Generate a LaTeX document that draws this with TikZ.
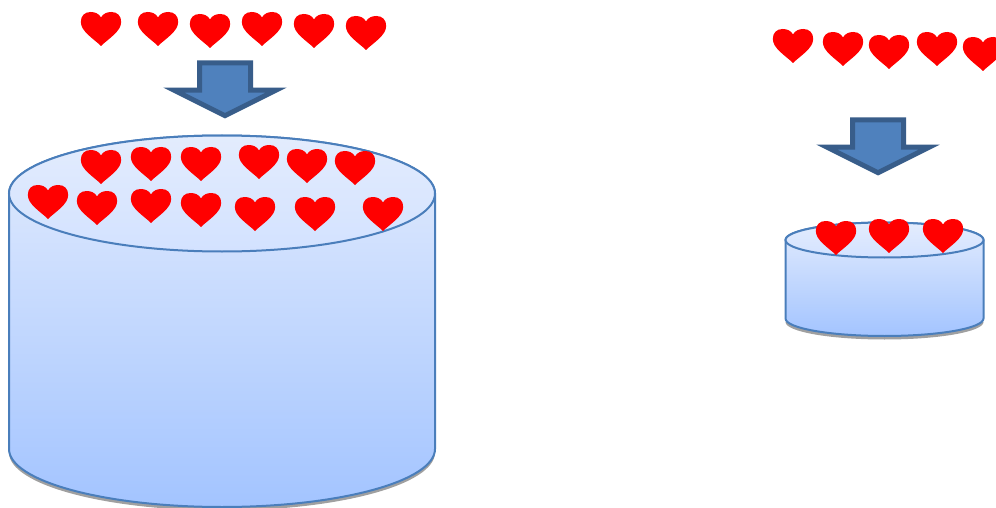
\documentclass[tikz,border=0pt]{standalone}
\usetikzlibrary{calc}
\definecolor{heartred}{HTML}{FF0000}
\definecolor{arrowfill}{HTML}{4F81BD}
\definecolor{arrowline}{HTML}{385D8A}
\definecolor{cylline}{HTML}{4A7EBB}
\definecolor{cyltop}{HTML}{E3ECFD}
\definecolor{cylmid}{HTML}{D3E2FF}
\definecolor{cylbot}{HTML}{A3C4FF}
\definecolor{cylshadow}{HTML}{A0A0A0}
\tikzset{
  x=1pt,y=-1pt,
  heartshape/.pic={
    \fill[heartred] (0,5.5) .. controls (2,1.6) and (6,0) .. (10.5,0)
      .. controls (16.5,0) and (20.2,4) .. (20.2,10)
      .. controls (20.2,19.5) and (7,27) .. (0,34)
      .. controls (-7,27) and (-20.2,19.5) .. (-20.2,10)
      .. controls (-20.2,4) and (-16.5,0) .. (-10.5,0)
      .. controls (-6,0) and (-2,1.6) .. (0,5.5) -- cycle;
  },
  downarrow/.pic={
    \draw[fill=arrowfill,draw=arrowline,line width=5pt,miter limit=12,line join=miter]
      (-25.5,0) -- (25.5,0) -- (25.5,27.2) -- (51,27.2) -- (0,52.7)
      -- (-51,27.2) -- (-25.5,27.2) -- cycle;
  },
  cylrim/.style={draw=cylline,line width=2pt},
}
\newcommand{\cylinder}[5]{% left, right, top-centre y, bottom-centre y, ry
  \pgfmathsetmacro{\cx}{(#1+#2)/2}
  \pgfmathsetmacro{\rx}{(#2-#1)/2}
  \fill[cylshadow] (#1,#4+3.5) arc[start angle=180,end angle=360,x radius=\rx,y radius=-#5] -- cycle;
  \path[top color=cyltop,bottom color=cylbot,cylrim]
    (#1,#3) -- (#1,#4) arc[start angle=180,end angle=360,x radius=\rx,y radius=-#5]
    -- (#2,#3) arc[start angle=0,end angle=180,x radius=\rx,y radius=-#5] -- cycle;
  \path[top color=cyltop,bottom color=cylmid,cylrim]
    (\cx,#3) ellipse[x radius=\rx,y radius=#5];
}
\begin{document}
\begin{tikzpicture}
\clip (0,0) rectangle (996,508);
\fill[white] (0,0) rectangle (996,508);
\cylinder{9}{435}{193.5}{449}{58}
\cylinder{785.5}{983.5}{240}{318.5}{17.5}
\pic at (225,63) {downarrow};
\pic at (878,120) {downarrow};
\foreach \hx/\hy in {101/12,158/12,210/14,262/12,314/14,366/16,
  101/150,151/147,201/147,259/145,307/149,355/151,
  48/185,97/191,151/189,201/193,255/197,315/197,383/197,
  793/29,843/32,889/35,937/32,983/37,
  836/221,889/219,943/219}
  \pic at (\hx,\hy) {heartshape};
\end{tikzpicture}
\end{document}
